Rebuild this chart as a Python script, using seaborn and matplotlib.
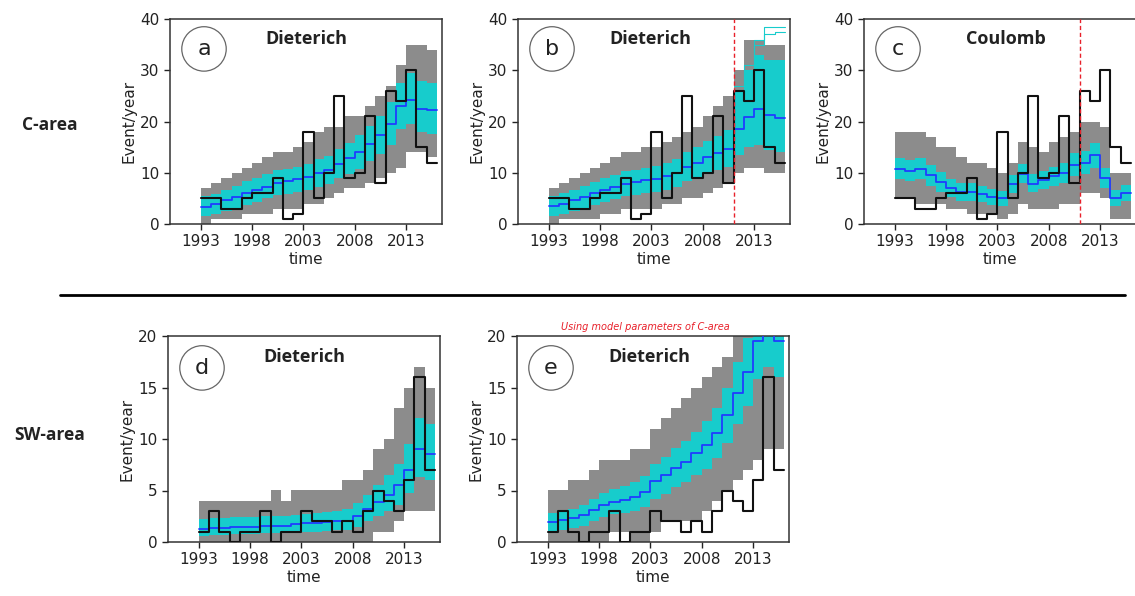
import numpy as np
import pandas as pd
import matplotlib
matplotlib.use("Agg")
import matplotlib.pyplot as plt
import seaborn as sns
from matplotlib.lines import Line2D

# ---------------- data ----------------
years = list(range(1993, 2016))
xticks = [1993, 1998, 2003, 2008, 2013]

obs_c = [5, 5, 3, 3, 5, 6, 6, 9, 1, 2, 18, 5, 10, 25, 9, 10, 21, 8, 26, 24, 30, 15, 12]
obs_sw = [1, 3, 1, 0, 1, 1, 3, 0, 1, 1, 3, 2, 2, 1, 2, 1, 3, 5, 4, 3, 6, 16, 7]

a_mean = [3.4, 3.9, 4.6, 5.3, 6.0, 6.6, 7.3, 8.0, 8.3, 8.7, 9.2, 9.9, 10.5, 11.8, 12.8, 14.0, 15.7, 17.3, 19.6, 23.0, 24.2, 22.5, 22.3]
a_cyan_lo = [1.5, 2.0, 2.6, 3.2, 3.8, 4.3, 5.0, 5.6, 5.9, 6.3, 6.7, 7.3, 7.8, 9.0, 9.8, 10.8, 12.3, 13.7, 15.5, 18.5, 19.5, 18.0, 17.5]
a_cyan_hi = [5.4, 5.9, 6.7, 7.5, 8.3, 9.0, 9.7, 10.5, 10.8, 11.2, 11.8, 12.6, 13.3, 14.7, 15.9, 17.3, 19.2, 21.0, 23.8, 27.5, 29.5, 28.0, 27.5]
a_gray_lo = [0, 1, 1, 1, 2, 2, 2, 3, 3, 3, 4, 4, 5, 6, 7, 7, 8, 9, 10, 11, 14, 14, 13]
a_gray_hi = [7, 8, 9, 10, 11, 12, 13, 14, 14, 15, 16, 18, 19, 19, 21, 21, 23, 25, 27, 31, 35, 35, 34]

b_mean = [3.6, 4.0, 4.6, 5.3, 6.0, 6.6, 7.2, 7.8, 8.1, 8.5, 8.8, 9.3, 10.0, 11.2, 12.0, 13.0, 13.8, 14.7, 18.6, 20.9, 22.5, 21.2, 20.7]
b_cyan_lo = [1.6, 2.0, 2.6, 3.2, 3.8, 4.3, 4.8, 5.4, 5.7, 6.0, 6.3, 6.7, 7.3, 8.3, 8.9, 9.8, 10.5, 11.2, 13.5, 15.0, 15.5, 14.5, 14.0]
b_cyan_hi = [5.5, 6.0, 6.6, 7.4, 8.2, 8.9, 9.6, 10.3, 10.6, 11.0, 11.4, 12.0, 12.7, 14.0, 15.0, 16.2, 17.2, 18.3, 26.0, 30.0, 33.0, 32.0, 32.0]
b_gray_lo = [0, 1, 1, 1, 1, 2, 2, 3, 3, 3, 3, 4, 4, 5, 5, 6, 7, 8, 10, 11, 11, 10, 10]
b_gray_hi = [7, 8, 9, 10, 11, 12, 13, 14, 14, 15, 15, 16, 17, 18, 19, 21, 23, 25, 30, 36, 36, 35, 35]
b_extra_years = [2011, 2012, 2013, 2014, 2015]
b_extra_1 = [27, 31, 36, 38.5, 38.5]
b_extra_2 = [26, 30, 35, 37, 37.5]

c_mean = [10.8, 10.4, 10.8, 9.5, 8.2, 7.0, 6.2, 6.2, 5.8, 5.3, 5.0, 7.8, 9.8, 7.9, 8.6, 9.3, 10.0, 11.5, 12.0, 13.4, 9.0, 5.0, 6.0]
c_cyan_lo = [8.8, 8.4, 8.8, 7.5, 6.2, 5.2, 4.5, 4.5, 4.2, 3.8, 3.5, 6.0, 8.0, 6.2, 6.8, 7.4, 8.0, 9.3, 9.8, 11.0, 7.0, 3.5, 4.5]
c_cyan_hi = [12.8, 12.4, 12.8, 11.5, 10.2, 8.8, 8.0, 8.0, 7.5, 6.9, 6.5, 9.6, 11.8, 9.8, 10.4, 11.2, 12.0, 13.8, 14.3, 15.8, 11.0, 6.7, 7.6]
c_gray_lo = [5, 5, 4, 4, 4, 3, 3, 2, 2, 2, 1, 2, 4, 3, 3, 3, 4, 4, 6, 6, 5, 1, 1]
c_gray_hi = [18, 18, 18, 17, 15, 15, 13, 12, 12, 11, 10, 12, 16, 15, 14, 16, 17, 18, 20, 20, 19, 10, 10]

d_mean = [1.3, 1.4, 1.4, 1.5, 1.5, 1.5, 1.6, 1.6, 1.6, 1.7, 1.8, 1.8, 1.9, 2.0, 2.0, 2.5, 3.2, 3.9, 4.6, 5.5, 7.0, 9.0, 8.5]
d_cyan_lo = [0.6, 0.7, 0.7, 0.8, 0.8, 0.8, 0.9, 0.9, 0.9, 1.0, 1.0, 1.0, 1.1, 1.2, 1.2, 1.5, 2.0, 2.5, 3.0, 3.6, 4.8, 6.3, 6.0]
d_cyan_hi = [2.2, 2.3, 2.3, 2.4, 2.4, 2.4, 2.5, 2.5, 2.5, 2.6, 2.7, 2.8, 2.9, 3.0, 3.2, 3.8, 4.6, 5.5, 6.5, 7.6, 9.5, 12.0, 11.5]
d_gray_lo = [0, 0, 0, 0, 0, 0, 0, 0, 0, 0, 0, 0, 0, 0, 0, 0, 0, 1, 1, 2, 3, 3, 3]
d_gray_hi = [4, 4, 4, 4, 4, 4, 4, 5, 4, 5, 5, 5, 5, 5, 6, 6, 7, 9, 10, 13, 15, 17, 15]

e_mean = [1.9, 2.1, 2.3, 2.6, 3.1, 3.6, 3.9, 4.1, 4.4, 4.9, 5.9, 6.5, 7.2, 7.8, 8.6, 9.4, 10.6, 12.3, 14.5, 16.5, 19.5, 21.0, 19.5]
e_cyan_lo = [1.1, 1.2, 1.4, 1.6, 2.0, 2.4, 2.7, 2.8, 3.0, 3.4, 4.2, 4.7, 5.3, 5.8, 6.5, 7.1, 8.2, 9.6, 11.5, 13.2, 15.8, 17.0, 16.0]
e_cyan_hi = [2.8, 3.0, 3.2, 3.6, 4.2, 4.8, 5.1, 5.4, 5.8, 6.4, 7.6, 8.3, 9.1, 9.8, 10.7, 11.7, 13.0, 15.0, 17.5, 19.8, 23.0, 25.0, 23.0]
e_gray_lo = [0, 0, 0, 0, 0, 0, 1, 1, 0, 0, 1, 2, 2, 2, 2, 3, 4, 5, 6, 7, 8, 9, 9]
e_gray_hi = [5, 5, 6, 6, 7, 8, 8, 8, 9, 9, 11, 12, 13, 14, 15, 16, 17, 18, 21, 23, 25, 25, 25]

panel_letters = ["a", "b", "c", "d", "e"]
panel_titles = ["Dieterich", "Dieterich", "Coulomb", "Dieterich", "Dieterich"]
row_labels = ["C-area", "SW-area"]
note_text = "Using model parameters of C-area"
forecast_start = 2011

# ---------------- style ----------------
sns.set_style("ticks")
plt.rcParams["font.family"] = ["DejaVu Sans"]

GRAY = "#8c8c8c"
CYAN = "#17cccc"
BLUE = "#1f3cff"
BLACK = "#111111"

fig = plt.figure(figsize=(11.35, 5.96), dpi=100)

W = 272 / 1135
row1 = (1 - 224 / 596, 205 / 596)
row2 = (1 - 542 / 596, 206 / 596)
positions = [
    (170 / 1135, *row1),
    (518 / 1135, *row1),
    (864 / 1135, *row1),
    (168 / 1135, *row2),
    (517 / 1135, *row2),
]

panels = [
    dict(obs=obs_c, mean=a_mean, clo=a_cyan_lo, chi=a_cyan_hi, glo=a_gray_lo, ghi=a_gray_hi, ymax=40, ystep=10, red=False),
    dict(obs=obs_c, mean=b_mean, clo=b_cyan_lo, chi=b_cyan_hi, glo=b_gray_lo, ghi=b_gray_hi, ymax=40, ystep=10, red=True),
    dict(obs=obs_c, mean=c_mean, clo=c_cyan_lo, chi=c_cyan_hi, glo=c_gray_lo, ghi=c_gray_hi, ymax=40, ystep=10, red=True),
    dict(obs=obs_sw, mean=d_mean, clo=d_cyan_lo, chi=d_cyan_hi, glo=d_gray_lo, ghi=d_gray_hi, ymax=20, ystep=5, red=False),
    dict(obs=obs_sw, mean=e_mean, clo=e_cyan_lo, chi=e_cyan_hi, glo=e_gray_lo, ghi=e_gray_hi, ymax=20, ystep=5, red=False),
]


def ext(v):
    v = list(v)
    return v + [v[-1]]


xs = years + [years[-1] + 1]

for i, (pos, p) in enumerate(zip(positions, panels)):
    l, b, h = pos
    ax = fig.add_axes([l, b, W, h])
    ax.fill_between(xs, ext(p["glo"]), ext(p["ghi"]), step="post", color=GRAY, lw=0, zorder=1)
    ax.fill_between(xs, ext(p["clo"]), ext(p["chi"]), step="post", color=CYAN, lw=0, zorder=2)
    if i == 1:
        for extra in (b_extra_1, b_extra_2):
            ex = b_extra_years + [b_extra_years[-1] + 1]
            sns.lineplot(x=ex, y=ext(extra), drawstyle="steps-post", color=CYAN, lw=0.8, ax=ax, zorder=2)
    df_mean = pd.DataFrame({"t": xs, "v": ext(p["mean"])})
    sns.lineplot(data=df_mean, x="t", y="v", drawstyle="steps-post", color=BLUE, lw=1.3, ax=ax, zorder=3)
    df_obs = pd.DataFrame({"t": xs, "v": ext(p["obs"])})
    sns.lineplot(data=df_obs, x="t", y="v", drawstyle="steps-post", color=BLACK, lw=1.5, ax=ax, zorder=4)
    if p["red"]:
        ax.axvline(forecast_start, color="#e8202a", ls=(0, (3, 2)), lw=1.0, zorder=5)

    ax.set_xlim(1990, 2016.5)
    ax.set_ylim(0, p["ymax"])
    ax.set_xticks(xticks)
    ax.set_yticks(np.arange(0, p["ymax"] + 1, p["ystep"]))
    ax.set_xlabel("time", fontsize=11, color="#222", labelpad=2)
    ax.set_ylabel("Event/year", fontsize=11, color="#222", labelpad=3)
    ax.tick_params(axis="both", labelsize=11, colors="#222", length=4, width=1, direction="out")
    for s in ax.spines.values():
        s.set_color("#333333")
        s.set_linewidth(1.1)

    yc = 0.854 if i < 3 else 0.845
    ax.text(0.125, yc, panel_letters[i], transform=ax.transAxes, ha="center", va="center",
            fontsize=16, color="#222", zorder=10,
            bbox=dict(boxstyle="circle,pad=0.55", fc="white", ec="#666666", lw=0.9))
    tx = [0.50, 0.485, 0.52, 0.50, 0.485][i]
    ax.text(tx, 0.90, panel_titles[i], transform=ax.transAxes, ha="center", va="center",
            fontsize=13, fontweight="bold", family=["Open Sans", "DejaVu Sans"], color="#222", zorder=10)

# row labels
fig.text(50 / 1135, 1 - 125 / 596, row_labels[0], ha="center", va="center", fontsize=12.5,
         fontweight="bold", family=["Open Sans", "DejaVu Sans"], color="#222")
fig.text(50 / 1135, 1 - 435 / 596, row_labels[1], ha="center", va="center", fontsize=12.5,
         fontweight="bold", family=["Open Sans", "DejaVu Sans"], color="#222")

# note above panel e
fig.text(645 / 1135, 1 - 327 / 596, note_text, ha="center", va="center", fontsize=7,
         style="italic", color="#e8202a")

# separator line
fig.add_artist(Line2D([60 / 1135, 1125 / 1135], [1 - 295 / 596, 1 - 295 / 596],
                      color="black", lw=2, transform=fig.transFigure))

fig.savefig("out.png", dpi=100)
